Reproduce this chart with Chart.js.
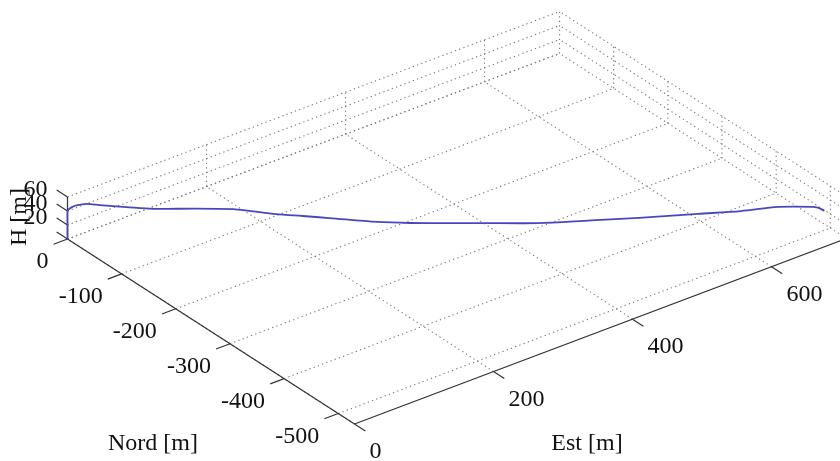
<!DOCTYPE html>
<html><head><meta charset="utf-8">
<script src="https://cdn.jsdelivr.net/npm/chart.js@4/dist/chart.umd.min.js"></script>
<style>html,body{margin:0;padding:0;background:#fff;}canvas{display:block;}</style>
</head><body>
<canvas id="c" width="840" height="461"></canvas>
<script>
// ---------------- data ----------------
const estTicks  = [0, 200, 400, 600];
const nordTicks = [-500, -400, -300, -200, -100, 0];
const hTicks    = [0, 20, 40, 60];
const hTickLabels = ['', '20', '40', '60'];
const estLimits  = [0, 708];
const nordLimits = [-530, 0];
const hLimits    = [0, 60];

// trajectory (Est, Nord, H in metres)
const trajEst  = [0, 0, 0, 1, 2, 4, 8, 18, 30, 55, 80, 120, 155, 170, 195, 220, 245, 290, 320, 350, 385, 440, 490, 535, 590, 630, 665, 697, 703, 708];
const trajNord = [0, 0, 0, 0, -1, -3, -6, -12, -21, -38, -55, -83, -107, -117, -135, -152, -169, -200, -221, -242, -266, -304, -338, -369, -407, -435, -459, -481, -485, -489];
const trajH    = [0, 20, 38, 41, 43, 45.5, 48, 49.5, 47.7, 44, 40.5, 40, 38, 35, 30, 26.3, 22.5, 15.6, 13.3, 12.4, 11.3, 9.6, 11.8, 14, 18, 21, 25.7, 24.8, 23, 19];

const titleEst = 'Est [m]';
const titleNord = 'Nord [m]';
const titleH = 'H [m]';

// ---------------- view (orthographic projection, layout only) ----------------
const view = { ox: 67.5, oy: 239, ex: 0.695, ey: -0.262, nx: -0.5415, ny: -0.349, hy: -0.7 };
function proj(e, n, h) {
  return { x: view.ox + view.ex * e + view.nx * n, y: view.oy + view.ey * e + view.ny * n + view.hy * h };
}

const [E0, E1] = estLimits, [N0, N1] = nordLimits, [H0, H1] = hLimits;
const gridStyle = { borderColor: '#7a7a7a', borderWidth: 1.1, borderDash: [1.3, 3.2] };
const axisStyle = { borderColor: '#333333', borderWidth: 1.2 };
const datasets = [];
function seg(a, b, style) {
  datasets.push(Object.assign({ data: [proj(...a), proj(...b)], showLine: true, pointRadius: 0, fill: false, tension: 0, clip: false }, style));
}

// trajectory first (drawn on top)
datasets.push({
  data: trajEst.map((e, i) => proj(e, trajNord[i], trajH[i])),
  showLine: true, pointRadius: 0, fill: false, tension: 0.3, clip: false,
  borderColor: 'rgb(72,72,190)', borderWidth: 1.8
});

// axes & tick marks
seg([E0, N0, H0], [E0, N1, H0], axisStyle);          // Nord axis
seg([E0, N0, H0], [E1, N0, H0], axisStyle);          // Est axis
seg([E0, N1, H0], [E0, N1, H1], axisStyle);          // H axis
nordTicks.forEach(n => seg([E0, n, H0], [E0 - 20, n, H0], axisStyle));
estTicks.forEach(e => seg([e, N0, H0], [e, N0 - 20, H0], axisStyle));
hTicks.forEach(h => seg([E0, N1, h], [E0, N1 + 20, h], axisStyle));

// grid: floor
estTicks.forEach(e => seg([e, N0, H0], [e, N1, H0], gridStyle));
nordTicks.forEach(n => seg([E0, n, H0], [E1, n, H0], gridStyle));
// grid: back wall Nord = max
hTicks.forEach(h => seg([E0, N1, h], [E1, N1, h], gridStyle));
estTicks.forEach(e => seg([e, N1, H0], [e, N1, H1], gridStyle));
// grid: back wall Est = max
hTicks.forEach(h => seg([E1, N0, h], [E1, N1, h], gridStyle));
nordTicks.forEach(n => seg([E1, n, H0], [E1, n, H1], gridStyle));

const labelPlugin = {
  id: 'labels3d',
  afterDatasetsDraw(chart) {
    const ctx = chart.ctx, xs = chart.scales.x, ys = chart.scales.y;
    const px = p => ({ x: xs.getPixelForValue(p.x), y: ys.getPixelForValue(p.y) });
    ctx.save();
    ctx.fillStyle = '#111';
    ctx.font = '24px "Liberation Serif", "Times New Roman", serif';
    ctx.textBaseline = 'alphabetic';
    // Nord tick labels
    ctx.textAlign = 'right';
    nordTicks.forEach(n => { const p = px(proj(E0, n, H0)); ctx.fillText(String(n), p.x - 19, p.y + 29); });
    // H tick labels
    hTicks.forEach((h, i) => { const p = px(proj(E0, N1, h)); ctx.fillText(hTickLabels[i], p.x - 20, p.y - 1); });
    // Est tick labels
    ctx.textAlign = 'left';
    estTicks.forEach(e => { const p = px(proj(e, N0, H0)); ctx.fillText(String(e), p.x + 15, p.y + 34); });
    // axis titles
    ctx.textAlign = 'center';
    ctx.fillText(titleNord, 153, 450);
    ctx.fillText(titleEst, 587, 450);
    ctx.translate(20, 217);
    ctx.rotate(-Math.PI / 2);
    ctx.textBaseline = 'middle';
    ctx.fillText(titleH, 0, 0);
    ctx.restore();
  }
};

new Chart(document.getElementById('c'), {
  type: 'scatter',
  data: { datasets },
  options: {
    responsive: false, animation: false, devicePixelRatio: 1,
    layout: { padding: 0 },
    plugins: { legend: { display: false }, tooltip: { enabled: false } },
    scales: {
      x: { type: 'linear', min: 0, max: 840, display: false },
      y: { type: 'linear', min: 0, max: 461, reverse: true, display: false }
    },
    elements: { point: { radius: 0 } }
  },
  plugins: [labelPlugin]
});
</script>
</body></html>
